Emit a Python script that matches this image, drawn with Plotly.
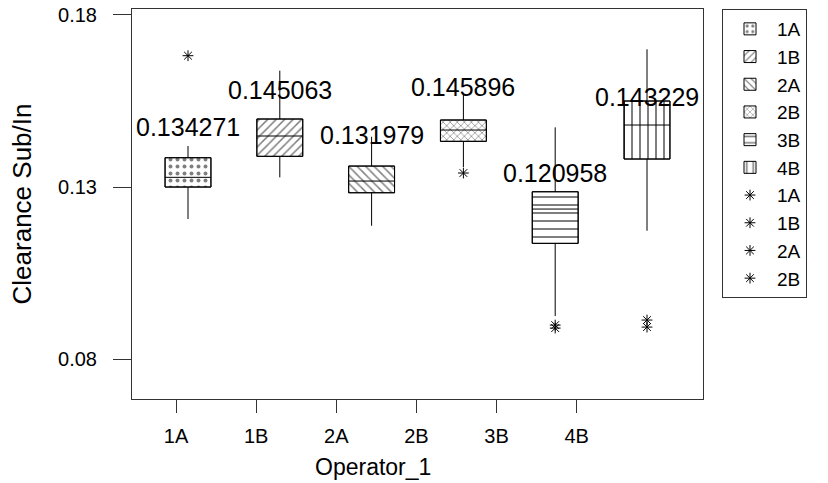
import plotly.graph_objects as go

cats = ["1A", "1B", "2A", "2B", "3B", "4B"]
q1 = [0.13000, 0.13892, 0.12834, 0.14328, 0.11363, 0.13814]
median = [0.13282, 0.14483, 0.13174, 0.14657, 0.12360, 0.14802]
q3 = [0.13852, 0.14977, 0.13610, 0.14948, 0.12863, 0.15500]
lower = [0.12070, 0.13282, 0.11875, 0.13581, 0.09250, 0.11730]
upper = [0.14192, 0.16381, 0.14462, 0.15674, 0.14735, 0.17003]
means = [0.134271, 0.145063, 0.131979, 0.145896, 0.120958, 0.143229]
patterns = [".", "/", "\\", "x", "-", "|"]
pattern_sizes = [7, 6, 6, 5, 8, 8]

# outliers: legend groups shown as in reference
out_legend_names = ["1A", "1B", "2A", "2B"]
out_x = {"1A": ["1A"], "1B": [], "2A": [], "2B": ["2B"]}
out_y = {"1A": [0.16817], "1B": [], "2A": [], "2B": [0.13407]}
extra_out_x = ["3B", "3B", "4B", "4B"]
extra_out_y = [0.08988, 0.08901, 0.09134, 0.08930]

FONT = "Liberation Sans, Arial, sans-serif"
fig = go.Figure()

for i, c in enumerate(cats):
    fig.add_trace(go.Bar(
        x=[c], y=[q3[i] - q1[i]], base=[q1[i]], name=c, width=0.5,
        marker=dict(color="white", line=dict(color="black", width=1),
                    pattern=dict(shape=patterns[i], fgcolor="black", bgcolor="white",
                                 size=pattern_sizes[i], solidity=0.25)),
        showlegend=True, hoverinfo="skip"))

fig.add_trace(go.Box(
    x=cats, q1=q1, median=median, q3=q3, lowerfence=lower, upperfence=upper,
    width=0.5, whiskerwidth=0, fillcolor="rgba(0,0,0,0)",
    line=dict(color="black", width=1), boxpoints=False, showlegend=False))

for n in out_legend_names:
    xs = out_x[n] if out_x[n] else [None]
    ys = out_y[n] if out_y[n] else [None]
    fig.add_trace(go.Scatter(
        x=xs, y=ys, mode="markers", name=n,
        marker=dict(symbol="asterisk-open", size=9, color="black",
                    line=dict(color="black", width=1))))

fig.add_trace(go.Scatter(
    x=extra_out_x, y=extra_out_y, mode="markers", showlegend=False,
    marker=dict(symbol="asterisk-open", size=9, color="black",
                line=dict(color="black", width=1))))

# invisible trace so that the tick axis (x2) is drawn
fig.add_trace(go.Scatter(
    x=list(range(len(cats))), y=[None] * len(cats), xaxis="x2", yaxis="y",
    mode="markers", showlegend=False, hoverinfo="skip"))

for i, c in enumerate(cats):
    fig.add_annotation(x=c, y=means[i], xref="x", yref="y", text=f"{means[i]:.6f}",
                       showarrow=False, yshift=45, font=dict(size=25, color="black", family=FONT))

fig.add_annotation(x=(373 - 132) / 571, y=(399 - 467) / 390, xref="paper", yref="paper",
                   text="Operator_1", showarrow=False, yanchor="middle",
                   font=dict(size=23, color="black", family=FONT))

fig.update_layout(
    width=828, height=483,
    margin=dict(l=132, r=125, t=9, b=84, autoexpand=False),
    paper_bgcolor="white", plot_bgcolor="white",
    barmode="overlay", boxmode="overlay",
    font=dict(family=FONT, color="black"),
    xaxis=dict(type="category", categoryorder="array", categoryarray=cats,
               range=[-0.61, 5.61], showticklabels=False, ticks="",
               showline=True, mirror=True, linecolor="#333", linewidth=1,
               showgrid=False, zeroline=False),
    xaxis2=dict(overlaying="x", anchor="y", side="bottom", type="linear",
                range=[-0.549, 6.576], tickvals=list(range(len(cats))), ticktext=cats,
                ticks="outside", ticklen=13, tickcolor="#333", tickfont=dict(size=20),
                showline=False, showgrid=False, zeroline=False, ticklabelstandoff=6),
    yaxis=dict(range=[0.0684, 0.18174], tickvals=[0.08, 0.13, 0.18],
               ticktext=["0.08", "0.13", "0.18"], ticks="outside", ticklen=18,
               tickcolor="#333", tickfont=dict(size=20), ticklabelstandoff=12,
               showline=True, mirror=True, linecolor="#333", linewidth=1,
               showgrid=False, zeroline=False,
               title=dict(text="Clearance Sub/In", font=dict(size=26), standoff=18)),
    legend=dict(x=(722 - 132) / 571, y=1.0, xanchor="left", yanchor="top",
                bordercolor="#333", borderwidth=1, bgcolor="white",
                font=dict(size=19), tracegroupgap=0, itemwidth=44, entrywidth=120),
)

fig.write_html("out.html", config={"displayModeBar": False},
               post_script="document.body.style.margin='0';")
